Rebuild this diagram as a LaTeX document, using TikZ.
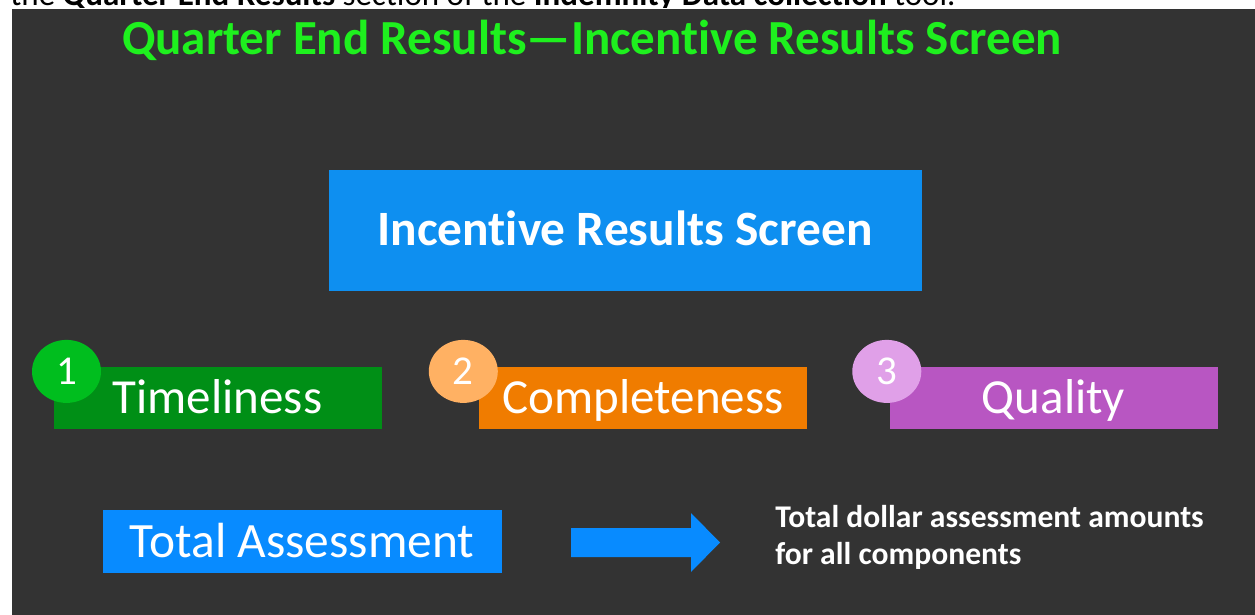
\documentclass[tikz,border=0pt]{standalone}
\usepackage{fontspec}
\setmainfont[Ligatures=NoCommon]{Carlito}
\usetikzlibrary{positioning,shapes.geometric}
\definecolor{slide}{RGB}{51,51,51}
\definecolor{titlegreen}{RGB}{30,240,30}
\definecolor{screenblue}{RGB}{14,143,240}
\definecolor{totalblue}{RGB}{8,139,255}
\definecolor{timegreen}{RGB}{0,143,22}
\definecolor{timedot}{RGB}{0,190,30}
\definecolor{comporange}{RGB}{240,124,0}
\definecolor{compdot}{RGB}{255,177,99}
\definecolor{qualpurple}{RGB}{184,86,194}
\definecolor{qualdot}{RGB}{224,160,232}
\tikzset{
    heading/.style={inner sep=0pt,text=titlegreen,font=\fontsize{24.5}{29}\selectfont\bfseries},
    screenbox/.style={fill=screenblue,text=white,inner sep=0pt,
        minimum width=296.5pt,minimum height=60.25pt,text height=15.5pt,text depth=0pt,
        font=\fontsize{24.7}{29}\selectfont\bfseries},
    partbox/.style={text=white,inner sep=0pt,minimum width=164pt,minimum height=31pt,
        text height=15pt,text depth=0pt,font=\fontsize{24.5}{29}\selectfont},
    numdot/.style={ellipse,text=white,inner sep=0pt,minimum width=34.5pt,minimum height=31.5pt,
        font=\fontsize{20.5}{24}\selectfont},
    totalbox/.style={fill=totalblue,text=white,inner sep=0pt,minimum width=199.5pt,minimum height=31.5pt,
        text height=15.5pt,text depth=0pt,font=\fontsize{24.7}{29}\selectfont},
    notetext/.style={text=white,inner sep=0pt,align=left,font=\fontsize{15.8}{18.25}\selectfont\bfseries}
}

\begin{document}
\begin{tikzpicture}[x=0.5pt,y=-0.5pt]
    \useasboundingbox (0,0) rectangle (1255,615);
    \fill[white] (0,0) rectangle (1255,615);
        % line of text above the slide, cut off
        \begin{scope}
            \clip (0,0) rectangle (1255,8);
            \node[anchor=base west,inner sep=0pt,font=\fontsize{16.5}{20}\selectfont] (cutline) at (10,5.5)
                {the \textbf{Quarter End Results} section of the \textbf{Indemnity Data collection} tool.};
        \end{scope}
    \fill[slide] (12,9) rectangle (1255,615);

    \node[heading,anchor=base] (title) at (592,55) {Quarter End Results---Incentive Results Screen};
    \node[screenbox] (screen) at (625,230.5) {Incentive Results Screen};

    % the three components
    \node[partbox,fill=timegreen]  (time) at (217.5,398) {Timeliness};
    \node[partbox,fill=comporange] (comp) at (643,398)   {Completeness};
    \node[partbox,fill=qualpurple] (qual) at (1053.5,398) {Quality};
    \node[numdot,fill=timedot] (n1) at (66.5,371.4)  {1};
    \node[numdot,fill=compdot] (n2) at (463.3,371.4) {2};
    \node[numdot,fill=qualdot] (n3) at (886.8,371.4) {3};

    \node[totalbox] (total) at (302,541.5) {Total Assessment};
    \coordinate (arrowtail) at (571,542.5);
    \fill[totalblue] (arrowtail) ++(0,-14.5) -- ++(120,0) -- ++(0,-15) -- ++(29,29.5)
        -- ++(-29,29.5) -- ++(0,-15) -- ++(-120,0) -- cycle;
    \node[notetext,anchor=base west] (note) at (775,564)
        {Total dollar assessment amounts\\for all components};
\end{tikzpicture}
\end{document}
